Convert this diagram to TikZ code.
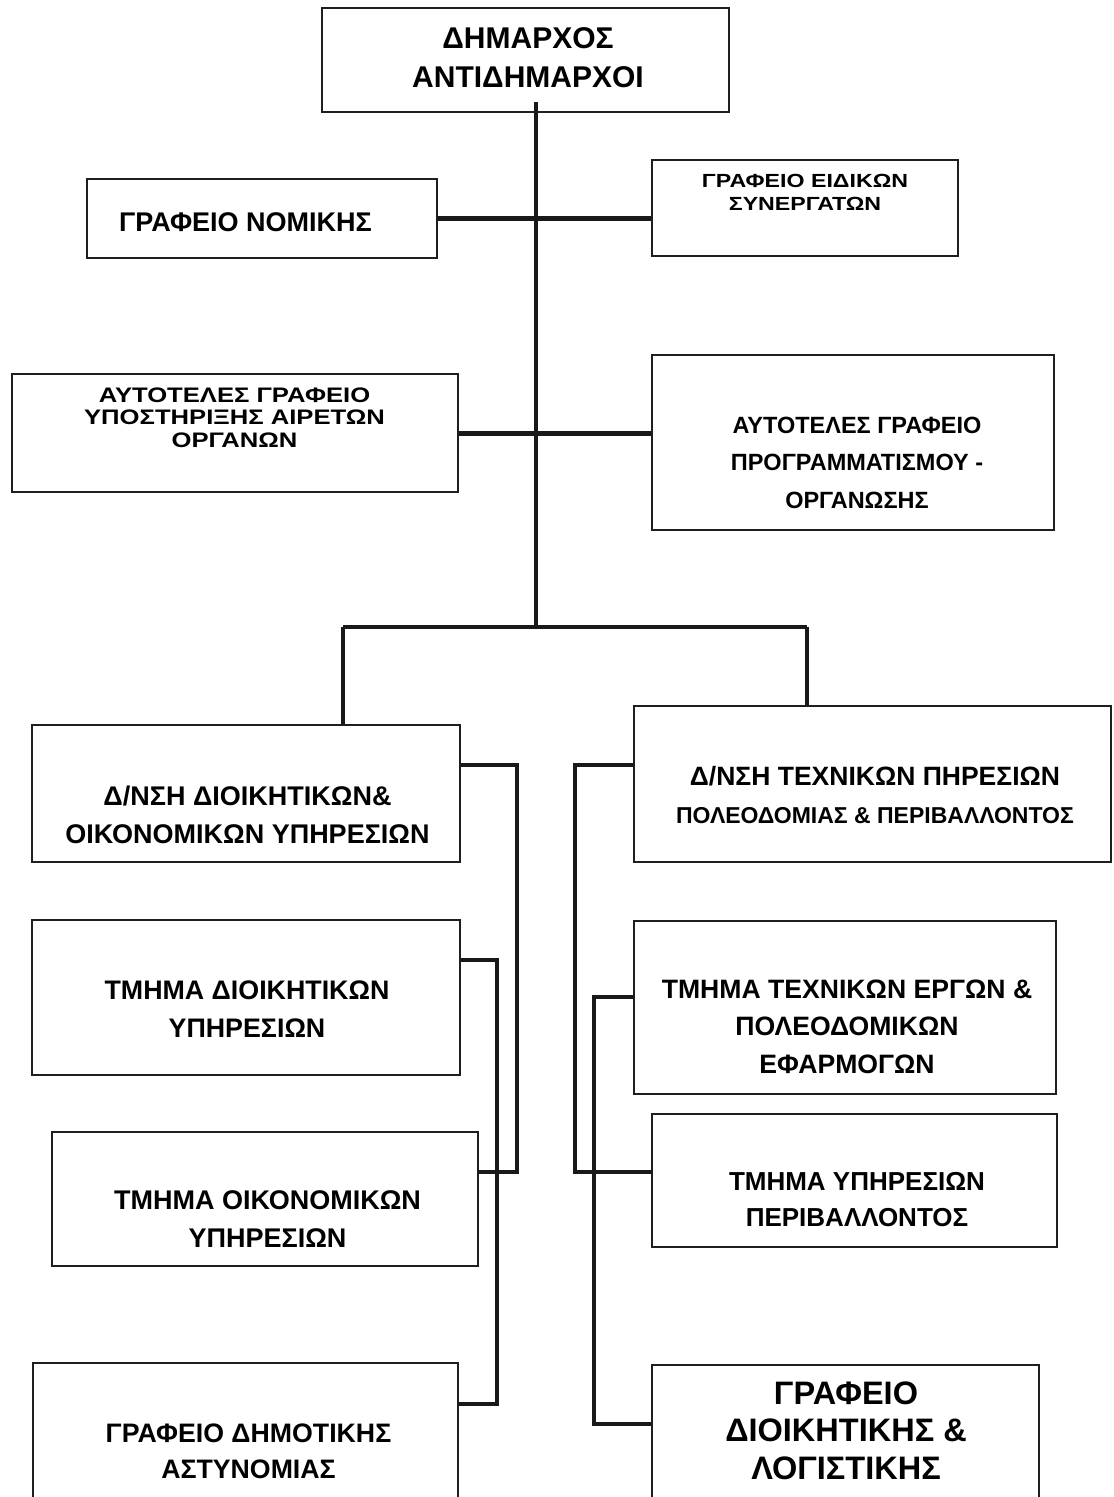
\documentclass[tikz,border=0pt]{standalone}
\usepackage{fontspec}
\setmainfont{Liberation Sans}
\newfontfamily\widefont{Liberation Sans}[FakeStretch=1.22]
\usetikzlibrary{fit}
\newcommand{\setfs}[2]{\fontsize{#1}{#2}\selectfont\bfseries}
\tikzset{
 box/.style={draw=black!88, line width=2.5pt, inner sep=0pt, rectangle},
 txt/.style={align=center, inner sep=0pt, text=black},
 conn/.style={draw=black!90, line width=3.2pt},
 bar/.style={draw=black!90, line width=5pt},
 midbar/.style={draw=black!90, line width=4.5pt},
}
\begin{document}
\begin{tikzpicture}[x=1pt,y=-1pt]
\clip (0,0) rectangle (1114,1497);
\useasboundingbox (0,0) rectangle (1114,1497);
\fill[white] (0,0) rectangle (1114,1497);
% boxes
\node[box, fit={(322,8) (729,112)}] (top) {};
\node[box, fit={(87,179) (437,258)}] (nom) {};
\node[box, fit={(652,160) (958,256)}] (eid) {};
\node[box, fit={(12,374) (458,492)}] (aut1) {};
\node[box, fit={(652,355) (1054,530)}] (aut2) {};
\node[box, fit={(32,725) (460,862)}] (dl) {};
\node[box, fit={(634,706) (1111,862)}] (dr) {};
\node[box, fit={(32,920) (460,1075)}] (tdi) {};
\node[box, fit={(634,921) (1056,1094)}] (ter) {};
\node[box, fit={(52,1132) (478,1266)}] (oik) {};
\node[box, fit={(652,1114) (1057,1247)}] (per) {};
\node[box, fit={(33,1363) (458,1530)}] (ast) {};
\node[box, fit={(652,1365) (1039,1530)}] (log) {};
% texts
\node[txt, font=\setfs{30}{39}] (topt) at (528,57.5) {ΔΗΜΑΡΧΟΣ\\ΑΝΤΙΔΗΜΑΡΧΟΙ};
\node[txt, font=\setfs{27}{38}] (nomt) at (245.5,222) {ΓΡΑΦΕΙΟ ΝΟΜΙΚΗΣ};
\node[txt, font=\widefont\setfs{19}{23}] (eidt) at (805,192.5) {ΓΡΑΦΕΙΟ ΕΙΔΙΚΩΝ\\ΣΥΝΕΡΓΑΤΩΝ};
\node[txt, font=\widefont\setfs{21}{22.5}] (aut1t) at (234.5,417.5) {ΑΥΤΟΤΕΛΕΣ ΓΡΑΦΕΙΟ\\ΥΠΟΣΤΗΡΙΞΗΣ ΑΙΡΕΤΩΝ\\ΟΡΓΑΝΩΝ};
\node[txt, font=\setfs{23.5}{37.5}] (aut2t) at (857,462.5) {ΑΥΤΟΤΕΛΕΣ ΓΡΑΦΕΙΟ\\ΠΡΟΓΡΑΜΜΑΤΙΣΜΟΥ -\\ΟΡΓΑΝΩΣΗΣ};
\node[txt, font=\setfs{27}{38}] (dlt) at (247.5,815) {Δ/ΝΣΗ ΔΙΟΙΚΗΤΙΚΩΝ\&\\ΟΙΚΟΝΟΜΙΚΩΝ ΥΠΗΡΕΣΙΩΝ};
\node[txt, font=\setfs{26.5}{38}] (drt) at (875,795) {Δ/ΝΣΗ ΤΕΧΝΙΚΩΝ ΠΗΡΕΣΙΩΝ\\{\fontsize{23}{38}\selectfont\bfseries ΠΟΛΕΟΔΟΜΙΑΣ \& ΠΕΡΙΒΑΛΛΟΝΤΟΣ}};
\node[txt, font=\setfs{26.8}{38}] (tdit) at (247,1009) {ΤΜΗΜΑ ΔΙΟΙΚΗΤΙΚΩΝ\\ΥΠΗΡΕΣΙΩΝ};
\node[txt, font=\setfs{26.6}{37.5}] (tert) at (847,1026.5) {ΤΜΗΜΑ ΤΕΧΝΙΚΩΝ ΕΡΓΩΝ \&\\ΠΟΛΕΟΔΟΜΙΚΩΝ\\ΕΦΑΡΜΟΓΩΝ};
\node[txt, font=\setfs{27}{38}] (oikt) at (267.5,1219) {ΤΜΗΜΑ ΟΙΚΟΝΟΜΙΚΩΝ\\ΥΠΗΡΕΣΙΩΝ};
\node[txt, font=\setfs{26}{36}] (pert) at (857,1200) {ΤΜΗΜΑ ΥΠΗΡΕΣΙΩΝ\\ΠΕΡΙΒΑΛΛΟΝΤΟΣ};
\node[txt, font=\setfs{26.7}{36}] (astt) at (248.5,1451) {ΓΡΑΦΕΙΟ ΔΗΜΟΤΙΚΗΣ\\ΑΣΤΥΝΟΜΙΑΣ};
\node[txt, font=\setfs{32.5}{37.5}] (logt) at (846,1430.5) {ΓΡΑΦΕΙΟ\\ΔΙΟΙΚΗΤΙΚΗΣ \&\\ΛΟΓΙΣΤΙΚΗΣ};
% junction coordinates
\coordinate (spine) at (536,627);
\coordinate (bl) at (343,627);
\coordinate (br) at (807,627);
\coordinate (l1a) at (517,765);
\coordinate (l1b) at (517,1172);
\coordinate (l2a) at (497,960);
\coordinate (l2b) at (497,1404);
\coordinate (r1a) at (575,765);
\coordinate (r1b) at (575,1172);
\coordinate (r2a) at (594,997);
\coordinate (r2b) at (594,1424);
% connectors
\draw[conn] ([yshift=11pt]top.south -| spine) -- (spine);
\draw[bar] (nom.east) -- (nom.east -| eid.west);
\draw[bar] (aut1.east) -- (aut1.east -| aut2.west);
\draw[midbar] (bl) -- (br);
\draw[conn] (bl) -- (bl |- dl.north);
\draw[conn] (br) -- (br |- dr.north);
\draw[conn] (l1a -| dl.east) -- (l1a) -- (l1b) -- (l1b -| oik.east);
\draw[conn] (l2a -| tdi.east) -- (l2a) -- (l2b) -- (l2b -| ast.east);
\draw[conn] (r1a -| dr.west) -- (r1a) -- (r1b) -- (r1b -| per.west);
\draw[conn] (r2a -| ter.west) -- (r2a) -- (r2b) -- (r2b -| log.west);
\end{tikzpicture}
\end{document}
